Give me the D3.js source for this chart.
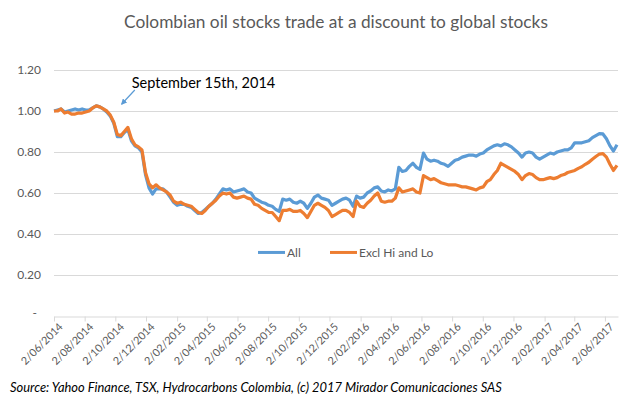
<!DOCTYPE html>
<html>
<head>
<meta charset="utf-8">
<script src="https://cdn.jsdelivr.net/npm/d3@7"></script>
<style>
    body { margin: 0; background: #fff; }
    text { font-family: Lato, "Open Sans", sans-serif; }
</style>
</head>
<body>
<div id="chart"></div>
<script>
// weekly closes, indexed from the first week
const firstWeek = "2014-06-02";

const allStocks = [
    1.00, 1.005, 1.01, 0.995, 1.00, 1.005, 1.01, 1.005, 1.01, 1.005,
    1.005, 1.015, 1.025, 1.02, 1.01, 0.995, 0.975, 0.94, 0.875, 0.875,
    0.895, 0.91, 0.855, 0.83, 0.82, 0.80, 0.69, 0.625, 0.595, 0.62,
    0.62, 0.62, 0.605, 0.58, 0.555, 0.54, 0.545, 0.545, 0.535, 0.53,
    0.515, 0.50, 0.505, 0.52, 0.535, 0.55, 0.57, 0.595, 0.62, 0.615,
    0.62, 0.605, 0.61, 0.615, 0.62, 0.605, 0.60, 0.575, 0.565, 0.555,
    0.55, 0.54, 0.535, 0.52, 0.51, 0.57, 0.565, 0.57, 0.555, 0.55,
    0.56, 0.55, 0.525, 0.55, 0.58, 0.59, 0.575, 0.57, 0.565, 0.54,
    0.55, 0.56, 0.57, 0.575, 0.565, 0.535, 0.585, 0.575, 0.58, 0.60,
    0.61, 0.625, 0.63, 0.61, 0.605, 0.615, 0.61, 0.62, 0.725, 0.705,
    0.71, 0.73, 0.745, 0.725, 0.715, 0.795, 0.765, 0.755, 0.76, 0.755,
    0.745, 0.74, 0.73, 0.745, 0.76, 0.765, 0.775, 0.78, 0.785, 0.785,
    0.78, 0.79, 0.795, 0.81, 0.82, 0.83, 0.835, 0.83, 0.84, 0.835,
    0.825, 0.81, 0.795, 0.775, 0.795, 0.80, 0.795, 0.775, 0.765, 0.775,
    0.785, 0.795, 0.79, 0.80, 0.805, 0.81, 0.81, 0.82, 0.845, 0.845,
    0.845, 0.85, 0.855, 0.87, 0.88, 0.89, 0.888, 0.865, 0.83, 0.805,
    0.835
];

const exclHiLo = [
    1.00, 1.00, 1.01, 0.99, 0.995, 0.985, 0.985, 0.99, 0.99, 0.995,
    1.00, 1.015, 1.025, 1.02, 1.01, 1.00, 0.98, 0.945, 0.885, 0.88,
    0.90, 0.92, 0.865, 0.835, 0.825, 0.81, 0.70, 0.645, 0.625, 0.64,
    0.625, 0.615, 0.605, 0.59, 0.56, 0.55, 0.555, 0.545, 0.54, 0.535,
    0.52, 0.505, 0.50, 0.515, 0.535, 0.55, 0.565, 0.585, 0.60, 0.595,
    0.60, 0.58, 0.575, 0.58, 0.585, 0.575, 0.57, 0.545, 0.54, 0.525,
    0.515, 0.505, 0.505, 0.485, 0.465, 0.515, 0.515, 0.52, 0.51, 0.51,
    0.515, 0.50, 0.48, 0.51, 0.54, 0.55, 0.54, 0.53, 0.515, 0.485,
    0.495, 0.505, 0.515, 0.515, 0.505, 0.485, 0.56, 0.535, 0.53, 0.55,
    0.565, 0.585, 0.60, 0.56, 0.555, 0.56, 0.56, 0.575, 0.625, 0.605,
    0.61, 0.615, 0.62, 0.605, 0.60, 0.685, 0.675, 0.665, 0.67, 0.66,
    0.65, 0.645, 0.64, 0.64, 0.64, 0.635, 0.63, 0.63, 0.625, 0.62,
    0.615, 0.625, 0.63, 0.655, 0.665, 0.69, 0.71, 0.745, 0.735, 0.725,
    0.715, 0.705, 0.69, 0.665, 0.685, 0.695, 0.69, 0.675, 0.665, 0.665,
    0.67, 0.675, 0.67, 0.675, 0.685, 0.69, 0.70, 0.705, 0.71, 0.72,
    0.728, 0.74, 0.75, 0.765, 0.778, 0.79, 0.792, 0.775, 0.74, 0.71,
    0.735
];

const tickLabels = ["2/06/2014", "2/08/2014", "2/10/2014", "2/12/2014", "2/02/2015", "2/04/2015",
    "2/06/2015", "2/08/2015", "2/10/2015", "2/12/2015", "2/02/2016", "2/04/2016", "2/06/2016",
    "2/08/2016", "2/10/2016", "2/12/2016", "2/02/2017", "2/04/2017", "2/06/2017"];
const axisEnd = "2017-06-28";
const yTicks = [0, 0.2, 0.4, 0.6, 0.8, 1.0, 1.2];

const seriesNames = ["All", "Excl Hi and Lo"];
const colors = ["#5B9BD5", "#ED7D31"];

const title = "Colombian oil stocks trade at a discount to global stocks";
const note = "September 15th, 2014";
const noteDate = "2014-09-15";
const source = "Source:  Yahoo Finance, TSX, Hydrocarbons  Colombia, (c) 2017 Mirador Comunicaciones SAS";

let W = 643, H = 397;
let margin = {top: 70, right: 25, bottom: 81, left: 54};
let width = W - margin.left - margin.right;
let height = H - margin.top - margin.bottom;

let parseIso = d3.timeParse("%Y-%m-%d");
let parseTick = d3.timeParse("%d/%m/%Y");
let start = parseIso(firstWeek);

let series = [allStocks, exclHiLo].map((vals, k) => ({
    name: seriesNames[k],
    color: colors[k],
    values: vals.map((v, i) => ({date: d3.timeDay.offset(start, 7 * i), value: v}))
}));

let svg = d3.select("#chart").append("svg")
    .attr("width", W)
    .attr("height", H);

svg.append("text")
    .attr("x", 336)
    .attr("y", 28)
    .attr("text-anchor", "middle")
    .attr("fill", "#595959")
    .style("font-size", "17.3px")
    .text(title);

let g = svg.append("g")
    .attr("transform", `translate(${margin.left},${margin.top})`);

let x = d3.scaleTime()
    .domain([start, parseIso(axisEnd)])
    .range([0, width]);

let y = d3.scaleLinear()
    .domain([0, 1.2])
    .range([height, 0]);

// gridlines
g.append("g")
    .selectAll("line")
    .data(yTicks.filter(d => d > 0))
    .enter().append("line")
    .attr("x1", 0)
    .attr("x2", width)
    .attr("y1", d => Math.round(y(d)) + 0.5)
    .attr("y2", d => Math.round(y(d)) + 0.5)
    .attr("stroke", "#D9D9D9");

// y labels
g.append("g")
    .selectAll("text")
    .data(yTicks)
    .enter().append("text")
    .attr("x", d => d === 0 ? -17 : -13)
    .attr("y", d => y(d))
    .attr("dy", d => d === 0 ? "0.1em" : "0.35em")
    .attr("text-anchor", "end")
    .attr("fill", "#595959")
    .style("font-size", "12px")
    .text(d => d === 0 ? "-" : d3.format(".2f")(d));

// x axis
let xAxis = d3.axisBottom(x)
    .tickValues(tickLabels.map(parseTick))
    .tickFormat(d3.timeFormat("%-d/%m/%Y"))
    .tickSize(5)
    .tickSizeOuter(0);

let xg = g.append("g")
    .attr("transform", `translate(0,${Math.round(height) + 0.5})`)
    .call(xAxis);
xg.select(".domain").attr("stroke", "#D9D9D9");
xg.selectAll(".tick line").attr("stroke", "#D9D9D9");
xg.selectAll(".tick text")
    .attr("fill", "#595959")
    .style("font-family", "Lato, sans-serif")
    .style("font-size", "10.8px")
    .attr("text-anchor", "end")
    .attr("x", 0)
    .attr("y", 0)
    .attr("dy", 0)
    .attr("transform", "translate(9,11) rotate(-45)");

// lines
let line = d3.line()
    .x(d => x(d.date))
    .y(d => y(d.value));

g.selectAll(".series")
    .data(series)
    .enter().append("path")
    .attr("class", "series")
    .attr("fill", "none")
    .attr("stroke", d => d.color)
    .attr("stroke-width", 3.2)
    .attr("stroke-linejoin", "round")
    .attr("d", d => line(d.values));

// legend
let legend = g.append("g")
    .attr("transform", `translate(204,${y(0.31)})`);
let legendItems = legend.selectAll("g")
    .data(series)
    .enter().append("g")
    .attr("transform", (d, i) => `translate(${i * 72},0)`);
legendItems.append("line")
    .attr("x1", 0).attr("x2", 27)
    .attr("stroke", d => d.color)
    .attr("stroke-width", 3);
legendItems.append("text")
    .attr("x", 29)
    .attr("dy", "0.35em")
    .attr("fill", "#595959")
    .style("font-size", "12px")
    .text(d => d.name);

// annotation
let nx = x(parseIso(noteDate));
svg.append("defs").append("marker")
    .attr("id", "arrow")
    .attr("viewBox", "0 0 10 10")
    .attr("refX", 8).attr("refY", 5)
    .attr("markerWidth", 5).attr("markerHeight", 5)
    .attr("orient", "auto")
    .append("path")
    .attr("d", "M0,0 L10,5 L0,10 Z")
    .attr("fill", "#5B9BD5");
g.append("line")
    .attr("x1", nx + 28)
    .attr("y1", 20)
    .attr("x2", nx + 15)
    .attr("y2", 34)
    .attr("stroke", "#5B9BD5")
    .attr("stroke-width", 1.2)
    .attr("marker-end", "url(#arrow)");
g.append("text")
    .attr("x", nx + 25)
    .attr("y", 18)
    .attr("fill", "#000")
    .style("font-size", "14.5px")
    .text(note);

// source
svg.append("text")
    .attr("x", 10)
    .attr("y", 392)
    .attr("fill", "#000")
    .style("font-size", "12.9px")
    .style("font-style", "italic")
    .text(source);
</script>
</body>
</html>
